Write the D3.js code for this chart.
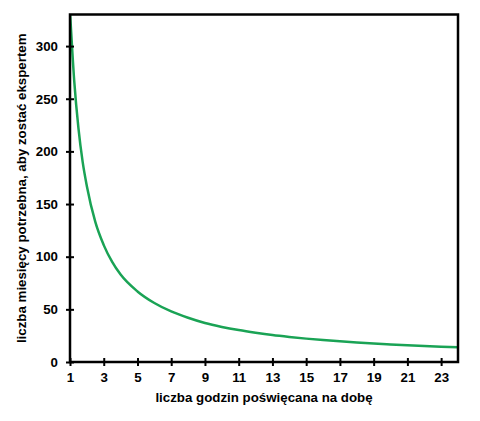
<!DOCTYPE html>
<html>
<head>
<meta charset="utf-8">
<script src="https://cdn.jsdelivr.net/npm/d3@7"></script>
<style>
  body { margin: 0; background: #fff; }
  svg text { font-family: Arial, "Liberation Sans", sans-serif; font-weight: bold; fill: #000; }
</style>
</head>
<body>
<svg id="chart"></svg>
<script>
// hours per day (x) and months needed to become an expert (y)
const hours = [1, 1.25, 1.5, 1.75, 2, 2.5, 3, 3.5, 4, 5, 6, 7, 8, 9, 10, 11, 12,
  13, 14, 15, 16, 17, 18, 19, 20, 21, 22, 23, 24];
const months = [333, 267, 222, 190, 167, 133, 111, 95, 83, 67, 56, 48, 42, 37, 33.3, 30.3, 27.8,
  25.6, 23.8, 22.2, 20.8, 19.6, 18.5, 17.5, 16.7, 15.9, 15.2, 14.5, 13.9];
const xTicks = [1, 3, 5, 7, 9, 11, 13, 15, 17, 19, 21, 23];
const yTicks = [0, 50, 100, 150, 200, 250, 300];
const xTitle = 'liczba godzin poświęcana na dobę';
const yTitle = 'liczba miesięcy potrzebna, aby zostać ekspertem';

const W = 480, H = 421;
const margin = { top: 14.5, right: 22, bottom: 59, left: 70 };
const width = W - margin.left - margin.right;
const height = H - margin.top - margin.bottom;

const svg = d3.select('#chart').attr('width', W).attr('height', H);
const g = svg.append('g').attr('transform', `translate(${margin.left},${margin.top})`);

const x = d3.scaleLinear().domain([1, 24]).range([0, width]);
const y = d3.scaleLinear().domain([0, 330]).range([height, 0]);

g.append('clipPath').attr('id', 'clip')
  .append('rect').attr('width', width).attr('height', height);

const line = d3.line()
  .x((d, i) => x(hours[i]))
  .y(d => y(d))
  .curve(d3.curveMonotoneX);

g.append('path')
  .datum(months)
  .attr('clip-path', 'url(#clip)')
  .attr('d', line)
  .style('fill', 'none')
  .style('stroke', '#1aa355')
  .style('stroke-width', 2.5);

// frame
g.append('rect')
  .attr('width', width).attr('height', height)
  .style('fill', 'none').style('stroke', '#000').style('stroke-width', 2.5);

const xAxis = g.append('g')
  .attr('transform', `translate(0,${height})`)
  .call(d3.axisBottom(x).tickValues(xTicks).tickSize(4).tickPadding(7).tickSizeOuter(0));
xAxis.selectAll('.tick line').attr('y1', -4).style('stroke-width', 2);

const yAxis = g.append('g')
  .call(d3.axisLeft(y).tickValues(yTicks).tickSize(4).tickPadding(8).tickSizeOuter(0));
yAxis.selectAll('.tick line').attr('x1', 4).style('stroke-width', 2);

[xAxis, yAxis].forEach(a => {
  a.select('.domain').remove();
  a.selectAll('text').style('font-size', '13.3px');
});

g.append('text')
  .attr('text-anchor', 'middle')
  .attr('x', width / 2)
  .attr('y', height + 40)
  .style('font-size', '13.3px')
  .text(xTitle);

g.append('text')
  .attr('text-anchor', 'middle')
  .attr('transform', `translate(${-44},${height / 2}) rotate(-90)`)
  .style('font-size', '13.3px')
  .text(yTitle);
</script>
</body>
</html>
